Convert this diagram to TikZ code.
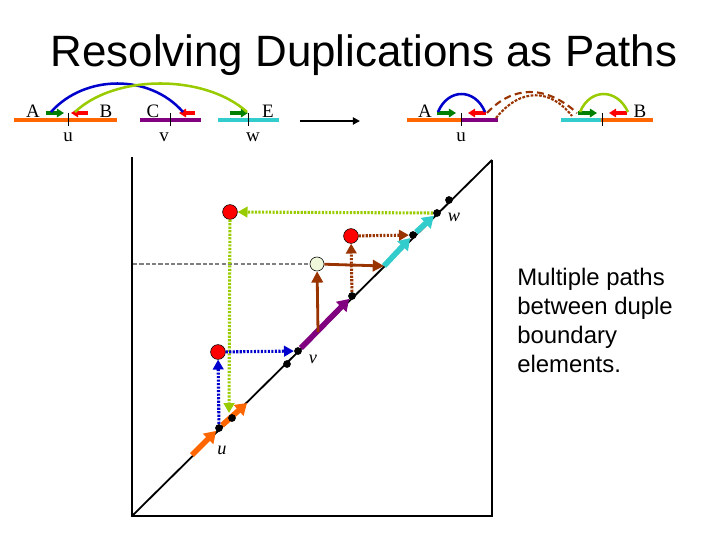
\documentclass[tikz,border=0pt]{standalone}
\usepackage{fontspec}
\setmainfont{Liberation Serif}
\newfontfamily\arialfont{Liberation Sans}
\usepackage{tikz}
\usetikzlibrary{arrows.meta}
\definecolor{segorange}{RGB}{255,102,0}
\definecolor{segpurple}{RGB}{128,0,128}
\definecolor{segcyan}{RGB}{51,204,204}
\definecolor{arcgreen}{RGB}{153,204,0}
\definecolor{arcblue}{RGB}{0,0,204}
\definecolor{pathbrown}{RGB}{153,51,0}
\definecolor{tipgreen}{RGB}{0,128,0}
\definecolor{tipred}{RGB}{255,0,0}
\definecolor{paleyellow}{RGB}{240,248,220}

\begin{document}
\begin{tikzpicture}[x=0.025cm, y=-0.025cm,
    bar/.style={line width=2.8pt},
    tickmark/.style={line width=0.6pt},
    tiparrow/.style={line width=2.2pt, -{Triangle[length=5pt,width=6pt]}},
    arcline/.style={line width=1.8pt},
    lbl/.style={font=\fontsize{13.5}{15}\selectfont, inner sep=0pt},
    ptlbl/.style={font=\fontsize{13}{15}\selectfont\itshape, inner sep=0pt},
    seg/.style={line width=4pt, -{Triangle[length=8pt,width=10pt]}},
    jump/.style={line width=2.2pt, dash pattern=on 1.5pt off 1pt, -{Triangle[length=7pt,width=7.5pt]}},
    blackdot/.style={circle, fill=black, inner sep=0pt, minimum size=5.5pt},
    redpt/.style={circle, draw=black, line width=0.4pt, fill=tipred, inner sep=0pt, minimum size=10.5pt},
    whitept/.style={circle, draw=black, line width=0.4pt, fill=paleyellow, inner sep=0pt, minimum size=10pt}]
    \useasboundingbox (0,0) rectangle (720,540);

    % title
    \node[font=\arialfont\fontsize{31.2}{35}\selectfont] (title) at (364,55) {Resolving Duplications as Paths};

    % left strip: three segments
    \draw[bar, segorange] (14,120) -- (117,120);
    \draw[bar, segpurple] (140,120) -- (201,120);
    \draw[bar, segcyan] (218,120) -- (279,120);
    \draw[tickmark] (68,113) -- (68,126);
    \draw[tickmark] (170,113) -- (170,126);
    \draw[tickmark] (248,113) -- (248,126);
    \draw[tiparrow, tipgreen] (46,113) -- (64,113);
    \draw[tiparrow, tipred] (88,113) -- (71,113);
    \draw[tiparrow, tipred] (195,113) -- (179,113);
    \draw[tiparrow, tipgreen] (230,113) -- (248,113);
    \draw[arcline, arcblue] (51,112) .. controls (85,74) and (150,74) .. (183,112);
    \draw[arcline, arcgreen] (75,112) .. controls (115,74) and (205,74) .. (247,112);
    \node[lbl] (lA) at (33,111) {A};
    \node[lbl] (lB) at (106,111) {B};
    \node[lbl] (lC) at (153,111) {C};
    \node[lbl] (lE) at (268,111) {E};
    \node[lbl] (lu) at (68,137) {u};
    \node[lbl] (lv) at (164,137) {v};
    \node[lbl] (lw) at (253,137) {w};

    % arrow between strips
    \coordinate (mfrom) at (300,121);
    \coordinate (mto) at (360,121);
    \draw[line width=1.6pt, -{Triangle[length=5pt,width=5pt]}] (mfrom) -- (mto);

    % right strip: merged
    \draw[bar, segorange] (407,120) -- (462,120);
    \draw[bar, segpurple] (462,120) -- (498,120);
    \draw[bar, segcyan] (561,120) -- (601,120);
    \draw[bar, segorange] (601,120) -- (653,120);
    \draw[tickmark] (461,113) -- (461,126);
    \draw[tickmark] (602,113) -- (602,126);
    \draw[tiparrow, tipgreen] (437,113) -- (456,113);
    \draw[tiparrow, tipred] (486,113) -- (468,113);
    \draw[tiparrow, tipgreen] (578,113) -- (597,113);
    \draw[tiparrow, tipred] (627,113) -- (609,113);
    \draw[arcline, arcblue] (438,112) .. controls (448,88) and (475,88) .. (485,112);
    \draw[arcline, arcgreen] (580,112) .. controls (590,88) and (617,88) .. (628,112);
    \draw[line width=1.5pt, pathbrown, dash pattern=on 5pt off 3pt] (487,113) .. controls (512,86) and (545,84) .. (577,113);
    \draw[line width=1.5pt, pathbrown, dash pattern=on 2pt off 1pt] (496,118) .. controls (520,88) and (550,88) .. (572,116);
    \node[lbl] (rA) at (425,111) {A};
    \node[lbl] (rB) at (640,111) {B};
    \node[lbl] (ru) at (461,137) {u};

    % frame and diagonal
    \coordinate (o) at (132,516);
    \coordinate (tl) at (132,157);
    \coordinate (br) at (492,516);
    \coordinate (tr) at (492,160);
    \draw[line width=2pt] (tl) -- (o) -- (br) -- (tr);
    \draw[line width=1.3pt] (o) -- (tr);

    % points on the diagonal
    \node[blackdot] (u) at (219,428) {};
    \node[blackdot] (v) at (298,351) {};
    \node[blackdot] (x) at (352,296) {};
    \node[blackdot] (y) at (413,235) {};
    \node[blackdot] (w) at (437,213) {};
    \node[redpt] (r1) at (230,212) {};
    \node[redpt] (r2) at (351,236) {};
    \node[redpt] (r3) at (218,352) {};
    \node[whitept] (wc) at (317,264) {};

    % segments along the diagonal
    \coordinate (o0) at (192,455);
    \coordinate (o1) at (247,403);
    \coordinate (c1) at (384,266);
    \draw[seg, segorange] (o0) -- (u);
    \draw[seg, segorange] (u) -- (o1);
    \draw[seg, segpurple] (v) -- (x);
    \draw[seg, segcyan] (c1) -- (y);
    \draw[seg, segcyan] (y) -- (w);

    % paths
    \coordinate (b1) at (318,332);
    \coordinate (g0) at (133,264);
    \coordinate (g1) at (229,413);
    \draw[gray, line width=1pt, dash pattern=on 3pt off 1.5pt] (g0) -- (wc);
    \draw[line width=2pt, pathbrown, -{Triangle[length=8pt,width=8pt]}] (b1) -- (wc);
    \draw[line width=2pt, pathbrown, -{Triangle[length=8pt,width=8pt]}] (wc) -- (c1);
    \draw[jump, pathbrown] (x) -- (r2);
    \draw[jump, pathbrown] (r2) -- (y);
    \draw[jump, arcgreen] (w) -- (r1);
    \draw[jump, arcgreen] (r1) -- (g1);
    \draw[jump, arcblue] (u) -- (r3);
    \draw[jump, arcblue] (r3) -- (v);

    % other points
    \node[blackdot] (u2) at (232,418) {};
    \node[blackdot] (v0) at (287,364) {};
    \node[blackdot] (z) at (449,200) {};

    \node[ptlbl] (ulbl) at (222,450) {u};
    \node[ptlbl] (vlbl) at (313,359) {v};
    \node[ptlbl] (wlbl) at (454,217) {w};

    % note
    \node[font=\arialfont\fontsize{17}{20.6}\selectfont, align=left, anchor=north west, inner sep=0pt] (note) at (517,268)
        {Multiple paths\\between duple\\boundary\\elements.};
\end{tikzpicture}
\end{document}
